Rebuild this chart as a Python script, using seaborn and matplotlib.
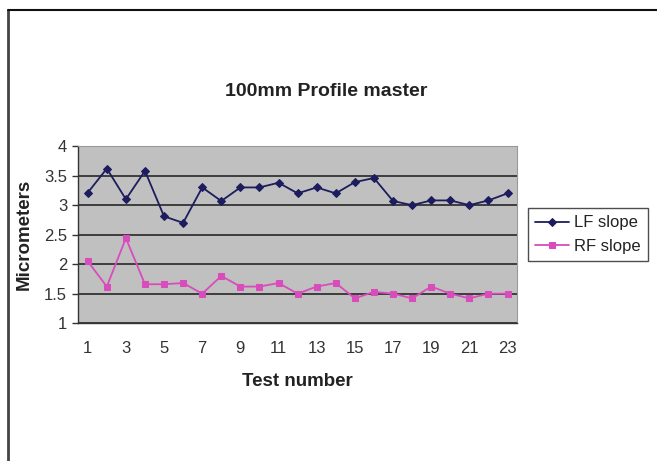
import matplotlib
matplotlib.use("Agg")
import matplotlib.pyplot as plt
from matplotlib.lines import Line2D
from matplotlib.ticker import FixedLocator, MultipleLocator
import seaborn as sns
import pandas as pd

tests = list(range(1, 24))
lf_slope = [3.21, 3.62, 3.10, 3.58, 2.81, 2.70, 3.30, 3.07, 3.30, 3.30, 3.38, 3.20,
            3.30, 3.20, 3.39, 3.46, 3.07, 3.00, 3.08, 3.08, 3.00, 3.08, 3.20]
rf_slope = [2.05, 1.62, 2.44, 1.66, 1.66, 1.68, 1.50, 1.80, 1.62, 1.62, 1.68, 1.50,
            1.62, 1.68, 1.42, 1.53, 1.50, 1.42, 1.62, 1.50, 1.42, 1.50, 1.50]
series_names = ["LF slope", "RF slope"]
x_tick_labels = [str(t) for t in tests[::2]]
y_ticks = [1, 1.5, 2, 2.5, 3, 3.5, 4]

df = pd.DataFrame({"Test": tests * 2,
                   "Value": lf_slope + rf_slope,
                   "Series": [series_names[0]] * len(tests) + [series_names[1]] * len(tests)})

sns.set_style("white")
plt.rcParams["font.family"] = ["Liberation Sans", "DejaVu Sans"]

fig = plt.figure(figsize=(6.57, 4.61), dpi=100)
ax = fig.add_axes([0.119, 0.299, 0.668, 0.384])
ax.set_facecolor("#c0c0c0")

palette = {"LF slope": "#1c1c5e", "RF slope": "#d94cbc"}
markers = {"LF slope": "D", "RF slope": "s"}
sizes = {"LF slope": 4, "RF slope": 4.8}
for name in series_names:
    sub = df[df["Series"] == name]
    sns.lineplot(data=sub, x="Test", y="Value", ax=ax, color=palette[name],
                 marker=markers[name], markersize=sizes[name],
                 markeredgecolor=palette[name], linewidth=1.3, label=name)

ax.set_xlim(0.5, 23.5)
ax.set_ylim(1, 4)
ax.yaxis.set_major_locator(FixedLocator(y_ticks))
ax.set_yticklabels(["1", "1.5", "2", "2.5", "3", "3.5", "4"])
ax.xaxis.set_major_locator(FixedLocator(tests[::2]))
ax.set_xticklabels(x_tick_labels)
ax.xaxis.set_minor_locator(MultipleLocator(1, offset=0.5))

ax.grid(axis="y", color="#1a1a1a", linewidth=1.1)
ax.set_axisbelow(True)
ax.tick_params(axis="x", which="major", length=0, pad=13, labelsize=12, labelcolor="#333333")
ax.tick_params(axis="x", which="minor", length=4, width=1, color="#333333", direction="out")
ax.tick_params(axis="y", which="major", length=4, width=1, color="#333333",
               direction="out", left=True, pad=4, labelsize=12, labelcolor="#333333")

for side in ["left", "bottom"]:
    ax.spines[side].set_color("#333333")
    ax.spines[side].set_linewidth(1.0)
for side in ["top", "right"]:
    ax.spines[side].set_color("#9a9a9a")
    ax.spines[side].set_linewidth(0.8)

# chart title is centred on the whole chart area, legend included
fig.text(0.496, 1 - 92 / 461, "100mm Profile master", fontsize=14, fontweight="bold",
         color="#222222", ha="center", va="center")
ax.set_xlabel("Test number", fontsize=13.5, fontweight="bold", labelpad=12, color="#222222")
ax.set_ylabel("Micrometers", fontsize=13.5, fontweight="bold", labelpad=8, color="#222222")

leg = ax.legend(loc="center left", bbox_to_anchor=(1.017, 0.5), frameon=True,
                fancybox=False, edgecolor="#222222", fontsize=12, handlelength=2.0,
                borderpad=0.45, labelspacing=0.5, handletextpad=0.3, borderaxespad=0.2)
leg.get_frame().set_linewidth(1.0)
for text in leg.get_texts():
    text.set_color("#222222")

# frame around the chart
fig.add_artist(Line2D([8 / 657, 8 / 657], [0, 1 - 10 / 461], color="#444444", linewidth=2))
fig.add_artist(Line2D([8 / 657, 1], [1 - 10 / 461, 1 - 10 / 461], color="#111111", linewidth=1.5))

fig.savefig("out.png", dpi=100, facecolor="white")
